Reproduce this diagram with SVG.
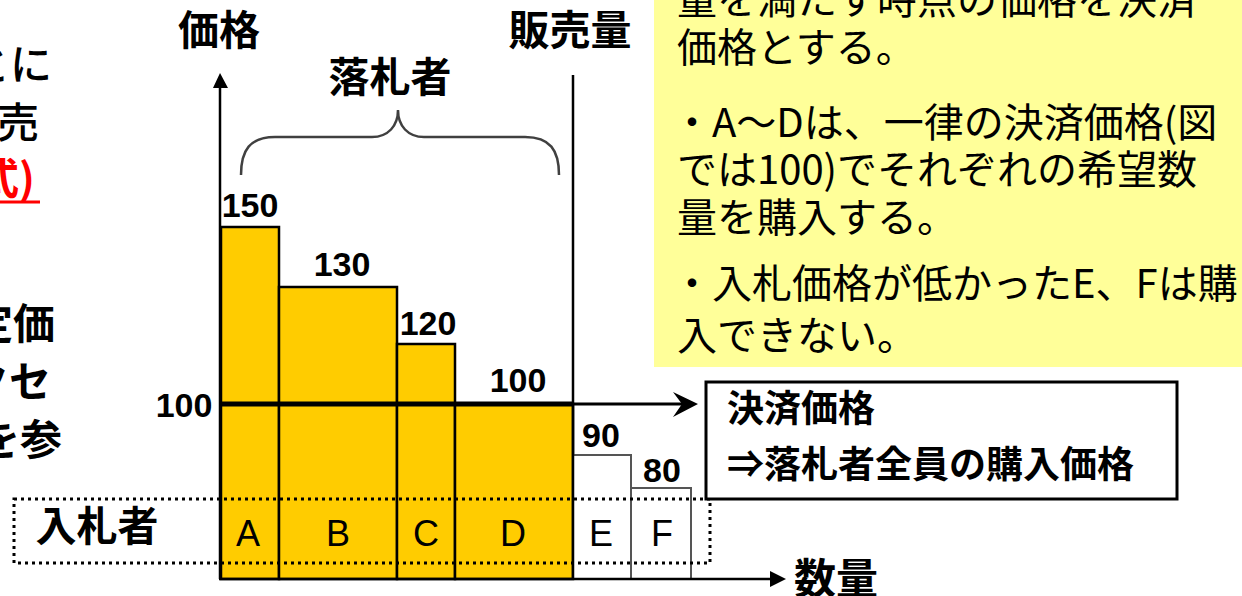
<svg xmlns="http://www.w3.org/2000/svg" width="1242" height="596" viewBox="0 0 1242 596">
  <style>
    .jp { font-family: "Noto Sans CJK JP", sans-serif; fill: #000; }
    .jpm { font-family: "Noto Sans CJK JP", sans-serif; font-weight: 500; fill: #000; }
    .jpb { font-family: "Noto Sans CJK JP", sans-serif; font-weight: bold; fill: #000; }
    .num { font-family: "Liberation Sans", Arial, sans-serif; font-weight: bold; font-size: 34px; fill: #000; text-anchor: middle; }
    .let { font-family: "Liberation Sans", Arial, sans-serif; font-size: 36px; fill: #000; text-anchor: middle; }
    .win { fill: #FFCC00; stroke: #000; stroke-width: 2.5; }
    .lose { fill: #FFFFFF; stroke: #555; stroke-width: 2; }
    .ax { stroke: #000; stroke-width: 2.5; fill: none; }
  </style>
  <rect width="1242" height="596" fill="#FFFFFF"/>

  <!-- left partial slide text (cropped by the frame) -->
  <g id="left-text">
    <text class="jpm" x="52" y="80" font-size="42" text-anchor="end">ごとに</text>
    <text class="jpm" x="39" y="138" font-size="42" text-anchor="end">販売</text>
    <text class="jpb" x="35" y="194" font-size="42" text-anchor="end" style="fill:#FF0000">方式)</text>
    <line x1="0" y1="202" x2="40" y2="202" stroke="#FF0000" stroke-width="3"/>
    <text class="jpb" x="55" y="339" font-size="42" text-anchor="end">定価</text>
    <text class="jpb" x="51" y="397" font-size="42" text-anchor="end">アクセ</text>
    <text class="jpb" x="62" y="455" font-size="42" text-anchor="end">を参</text>
  </g>

  <!-- yellow note -->
  <g id="note">
    <rect x="654" y="-10" width="600" height="377" fill="#FFFF99"/>
    <text class="jp" font-size="40" x="677" y="14">量を満たす時点の価格を決済</text>
    <text class="jp" font-size="40" x="677" y="62">価格とする。</text>
    <text class="jp" font-size="40" x="672" y="137">・A〜Dは、一律の決済価格(図</text>
    <text class="jp" font-size="40" x="677" y="184">では100)でそれぞれの希望数</text>
    <text class="jp" font-size="40" x="677" y="232">量を購入する。</text>
    <text class="jp" font-size="40" x="672" y="298">・入札価格が低かったE、Fは購</text>
    <text class="jp" font-size="40" x="677" y="350">入できない。</text>
  </g>

  <!-- bars -->
  <g id="bar-A"><rect class="win" x="221" y="227" width="58" height="352"/></g>
  <g id="bar-B"><rect class="win" x="279" y="287" width="118" height="292"/></g>
  <g id="bar-C"><rect class="win" x="397" y="344" width="58" height="235"/></g>
  <g id="bar-D"><rect class="win" x="455" y="404" width="118" height="175"/></g>
  <g id="bar-E"><rect class="lose" x="573" y="455" width="58" height="124"/></g>
  <g id="bar-F"><rect class="lose" x="631" y="488" width="60" height="91"/></g>

  <!-- bidder dotted box -->
  <g id="bidders">
    <rect x="14" y="499" width="696" height="64" fill="none" stroke="#000" stroke-width="3" stroke-dasharray="3 4"/>
    <text class="jpb" x="97" y="541" font-size="41" text-anchor="middle">入札者</text>
    <text class="let" x="248" y="546">A</text>
    <text class="let" x="338" y="546">B</text>
    <text class="let" x="426" y="546">C</text>
    <text class="let" x="513" y="546">D</text>
    <text class="let" x="601" y="546">E</text>
    <text class="let" x="662" y="546">F</text>
  </g>

  <!-- connectors / axes -->
  <g id="connectors">
    <line class="ax" x1="220" y1="579" x2="220" y2="86"/>
    <polygon points="220,73 213,88 228,88" fill="#000"/>
    <line class="ax" x1="219" y1="579" x2="772" y2="579"/>
    <polygon points="786,579 770,571 770,587" fill="#000"/>
    <line x1="573" y1="75" x2="573" y2="579" stroke="#000" stroke-width="2.5"/>
    <line x1="220" y1="404" x2="573" y2="404" stroke="#000" stroke-width="5"/>
    <line x1="573" y1="404" x2="688" y2="404" stroke="#000" stroke-width="3"/>
    <path d="M698,404 L673,392 L682,404 L673,417 Z" fill="#000"/>
    <path d="M241,175 C241,150 250,137 275,137 L372,137 C388,137 398,126 398,110 C398,126 408,137 424,137 L525,137 C550,137 559,150 559,175" fill="none" stroke="#404040" stroke-width="2.5"/>
  </g>

  <!-- value labels -->
  <g id="values">
    <text class="num" x="250" y="217">150</text>
    <text class="num" x="342" y="276">130</text>
    <text class="num" x="428" y="335">120</text>
    <text class="num" x="518" y="392">100</text>
    <text class="num" x="184" y="417">100</text>
    <text class="num" x="601" y="447">90</text>
    <text class="num" x="662" y="482">80</text>
  </g>

  <!-- axis labels -->
  <g id="labels">
    <text class="jpb" x="219" y="45" font-size="41" text-anchor="middle">価格</text>
    <text class="jpb" x="570" y="45" font-size="41" text-anchor="middle">販売量</text>
    <text class="jpb" x="390" y="92" font-size="41" text-anchor="middle">落札者</text>
    <text class="jpb" x="836" y="594" font-size="42" text-anchor="middle">数量</text>
  </g>

  <!-- settlement price box -->
  <g id="settle-box">
    <rect x="706" y="382" width="471" height="117" fill="#FFFFFF" stroke="#000" stroke-width="3"/>
    <text class="jpb" x="727" y="422" font-size="37">決済価格</text>
    <text class="jpb" x="727" y="478" font-size="37">⇒落札者全員の購入価格</text>
  </g>
</svg>
